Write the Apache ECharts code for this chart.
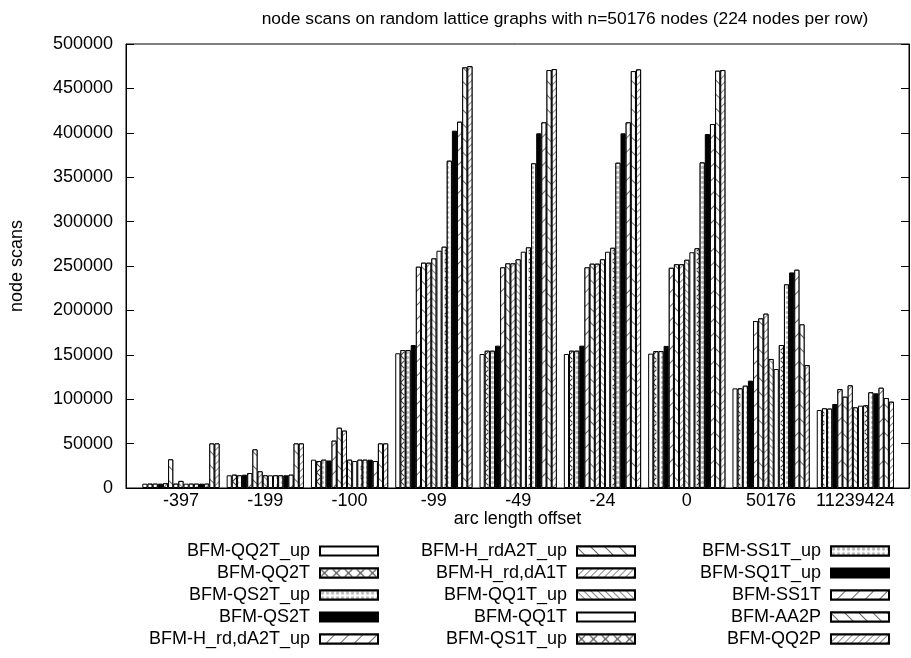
<!DOCTYPE html>
<html>
<head>
<meta charset="utf-8">
<title>node scans</title>
<script src="https://cdn.jsdelivr.net/npm/echarts@6.0.0/dist/echarts.min.js"></script>
<style>
  html, body { margin: 0; padding: 0; background: #fff; }
  #chart { width: 911px; height: 658px; }
</style>
</head>
<body>
<div id="chart"></div>
<script>
// x 轴: arc length offset
var categories = ["-397", "-199", "-100", "-99", "-49", "-24", "0", "50176", "11239424"];

// 每个算法一组 node scans
var qq2tUp    = [4900, 14300, 31900, 151700, 150900, 150900, 151300, 112200, 87800];
var qq2t      = [4900, 15000, 30400, 155400, 154600, 154600, 154200, 112200, 89700];
var qs2tUp    = [4900, 14300, 31900, 155400, 154600, 154600, 154200, 115200, 89400];
var qs2t      = [4900, 15000, 31000, 161000, 160300, 160300, 160000, 120900, 94600];
var hrdDa2tUp = [5400, 16900, 53300, 249200, 248500, 248500, 248000, 188000, 111500];
var hrdA2tUp  = [32300, 43500, 67900, 253700, 253000, 252600, 252000, 191000, 102800];
var hrdDa1t   = [4900, 18800, 64600, 253700, 253000, 252600, 252000, 196300, 115600];
var qq1tUp    = [8000, 14300, 31900, 258600, 257500, 257500, 257000, 145300, 90800];
var qq1t      = [4900, 14300, 30400, 267200, 266100, 266100, 265500, 134000, 92700];
var qs1tUp    = [4900, 14300, 31900, 271700, 271000, 270500, 270000, 161000, 93100];
var ss1tUp    = [4900, 14300, 31900, 368600, 365600, 366300, 366700, 229300, 107800];
var sq1tUp    = [4900, 14300, 31900, 402400, 399400, 399400, 398600, 242800, 106600];
var ss1t      = [4900, 15000, 30400, 412500, 411800, 411800, 409900, 245800, 112900];
var aa2p      = [50176, 50176, 50176, 473700, 470700, 469500, 469900, 184300, 101300];
var qq2p      = [50176, 50176, 50176, 475200, 471800, 471400, 470700, 138500, 97200];

var names = [
  "BFM-QQ2T_up", "BFM-QQ2T", "BFM-QS2T_up", "BFM-QS2T", "BFM-H_rd,dA2T_up",
  "BFM-H_rdA2T_up", "BFM-H_rd,dA1T", "BFM-QQ1T_up", "BFM-QQ1T", "BFM-QS1T_up",
  "BFM-SS1T_up", "BFM-SQ1T_up", "BFM-SS1T", "BFM-AA2P", "BFM-QQ2P"
];
var values = [qq2tUp, qq2t, qs2tUp, qs2t, hrdDa2tUp, hrdA2tUp, hrdDa1t, qq1tUp,
  qq1t, qs1tUp, ss1tUp, sq1tUp, ss1t, aa2p, qq2p];

var FONT = "'Liberation Sans', Arial, sans-serif";

// gnuplot 的填充样式 0..7 循环
function lines(gap, rot, color) {
  return { symbol: "rect", symbolSize: 1, dashArrayX: [1, 0], dashArrayY: [1, gap],
    rotation: rot, color: color, backgroundColor: "#fff" };
}
var xPath = "path://M0,0L1,0L10,9L10,10L9,10L0,1Z M9,0L10,0L10,1L1,10L0,10L0,9Z";
var patterns = [
  null,                                                        // 0 空
  { symbol: xPath, symbolSize: 0.9, dashArrayX: [9, 3], dashArrayY: [9, 0], color: "#444", backgroundColor: "#fff" }, // 1 x
  { symbol: "circle", symbolSize: 0.7, dashArrayX: [5, 0], dashArrayY: [5, 0], color: "#bbb", backgroundColor: "#fff" }, // 2 细 x
  "solid",                                                     // 3 实心
  lines(9, -Math.PI / 4, "#666"),                              // 4
  lines(9, Math.PI / 4, "#666"),                               // 5
  lines(4, -Math.PI / 4, "#888"),                              // 6
  lines(4, Math.PI / 4, "#888")                                // 7
];

var series = names.map(function (name, i) {
  var p = patterns[i % 8];
  var itemStyle = { color: "#fff", borderColor: "#000", borderWidth: 1 };
  if (p === "solid") {
    itemStyle.color = "#000";
  } else if (p) {
    itemStyle.decal = p;
  }
  return {
    name: name,
    type: "bar",
    barWidth: 5.15,
    barGap: "0%",
    itemStyle: itemStyle,
    emphasis: { disabled: true },
    data: values[i].map(function (v, k) { return [k, v]; })
  };
});

function legendCol(list, right) {
  return {
    orient: "vertical",
    data: list,
    right: right,
    top: 542,
    padding: 0,
    align: "right",
    icon: "rect",
    itemWidth: 58,
    itemHeight: 9,
    itemGap: 4,
    selectedMode: false,
    textStyle: { fontFamily: FONT, fontSize: 18, color: "#000", lineHeight: 18, padding: [0, 5, 0, 0] }
  };
}

var chart = echarts.init(document.getElementById("chart"));
chart.setOption({
  animation: false,
  backgroundColor: "#fff",
  graphic: [{
    type: "text",
    x: 565, y: 19,
    style: {
      text: "node scans on random lattice graphs with n=50176 nodes (224 nodes per row)",
      font: "17.4px " + FONT, fill: "#000", align: "center", verticalAlign: "middle"
    }
  }],
  grid: { left: 126, right: 2, top: 44, bottom: 170, show: true, borderColor: "#000", borderWidth: 1 },
  legend: [
    legendCol(names.slice(0, 5), 532),
    legendCol(names.slice(5, 10), 275),
    legendCol(names.slice(10, 15), 21)
  ],
  xAxis: {
    type: "value",
    min: -0.652,
    max: 8.636,
    name: "arc length offset",
    nameLocation: "middle",
    nameGap: 22,
    nameMoveOverlap: false,
    nameTextStyle: { fontFamily: FONT, fontSize: 18, color: "#000" },
    axisLine: { show: true, lineStyle: { color: "#000" } },
    axisTick: { show: false },
    splitLine: { show: false },
    axisLabel: {
      customValues: [0, 1, 2, 3, 4, 5, 6, 7, 8],
      formatter: function (v) { return categories[Math.round(v)]; },
      fontFamily: FONT, fontSize: 18, color: "#000", margin: 4
    }
  },
  yAxis: [{
    type: "value",
    min: 0,
    max: 500000,
    interval: 50000,
    name: "node scans",
    nameLocation: "middle",
    nameGap: 100,
    nameTextStyle: { fontFamily: FONT, fontSize: 18, color: "#000" },
    axisLine: { show: true, onZero: false, lineStyle: { color: "#000" } },
    axisTick: { show: true, inside: true, length: 8, lineStyle: { color: "#000" } },
    splitLine: { show: false },
    axisLabel: {
      formatter: function (v) { return String(v); },
      fontFamily: FONT, fontSize: 18, color: "#000", margin: 13
    }
  }, {
    type: "value",
    position: "right",
    min: 0,
    max: 500000,
    interval: 50000,
    axisLine: { show: true, onZero: false, lineStyle: { color: "#000" } },
    axisTick: { show: true, inside: true, length: 8, lineStyle: { color: "#000" } },
    splitLine: { show: false },
    axisLabel: { show: false }
  }],
  series: series
});
</script>
</body>
</html>
